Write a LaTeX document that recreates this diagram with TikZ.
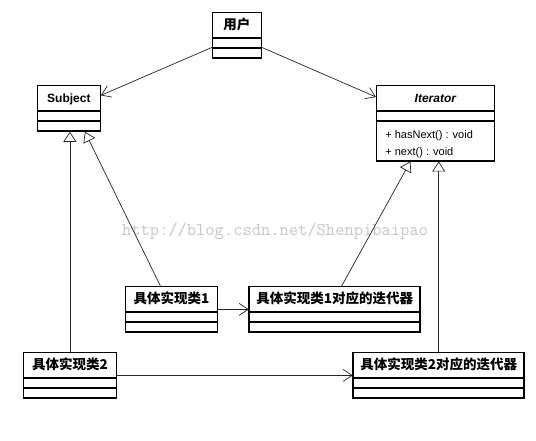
\documentclass[tikz,border=0pt]{standalone}
\usepackage{fontspec}
\setmainfont{Liberation Sans}
\newfontfamily\cjk{Noto Sans CJK SC}
\usetikzlibrary{shapes,
                arrows.meta,
                positioning}
\tikzset{umlclass/.style =
   {rectangle split,
    rectangle split parts=3,
    draw,
    line width=0.8pt,
    postaction={draw, line width=1.8pt},
    inner xsep=3pt,
    inner ysep=2pt,
    rectangle split empty part height=4pt,
    rectangle split empty part depth=0pt,
    anchor=north west,
    font=\bfseries\fontsize{12}{14}\selectfont}}
\tikzset{watermark/.style =
   {text=black!22,
    font=\ttfamily\fontsize{18}{20}\selectfont}}
\tikzset{assoc/.style = {draw, line width=0.7pt, black!85,
    -{Straight Barb[length=9pt, width=12pt]}}}
\tikzset{inherit/.style = {draw, line width=0.7pt, black!85,
    -{Triangle[open, length=10pt, width=13pt, fill=white]}}}
\newcommand\clsname[1]{\rule[-6pt]{0pt}{21pt}#1}
\newcommand\cjkname[1]{\clsname{\cjk\fontsize{13.5}{15}\selectfont #1}}
\newcommand\method{\normalfont\fontsize{11}{13}\selectfont}

\begin{document}
\begin{tikzpicture}[x=1pt, y=-1pt]

    \useasboundingbox (0,0) rectangle (536,440);
    \fill [white] (0,0) rectangle (536,440);

    \node [watermark] (mark) at (275,231) {http://blog.csdn.net/Shenpibaipao};

    \node [umlclass, minimum width=49pt] (user) at (212,12)
          {\cjkname{用户}};

    \node [umlclass, minimum width=63pt] (subject) at (37,85)
          {\clsname{Subject}};

    \node [umlclass,
           minimum width=118pt,
           inner xsep=9pt,
           align=left,
           rectangle split part align={center,center,left}] (iterator) at (376,85)
          {\clsname{\itshape Iterator}
           \nodepart{three}
           \method\rule{0pt}{15pt}+ hasNext() : void\\[3pt]
           \method\rule[-3pt]{0pt}{3pt}+ next() : void};

    \node [umlclass, minimum width=92pt] (impl1) at (125,286)
          {\cjkname{具体实现类1}};

    \node [umlclass,
           minimum width=171pt,
           right = 31pt of impl1.east,
           anchor=west] (iter1)
          {\cjkname{具体实现类1对应的迭代器}};

    \node [umlclass, minimum width=93pt] (impl2) at (23,352)
          {\cjkname{具体实现类2}};

    \node [umlclass,
           minimum width=171pt,
           right = 236pt of impl2.east,
           anchor=west] (iter2)
          {\cjkname{具体实现类2对应的迭代器}};

    % associations
    \draw [assoc] ([yshift=-12pt]user.west) -- ([yshift=13pt]subject.east);
    \draw [assoc] ([yshift=-12pt]user.east) -- ([yshift=-12pt]iterator.north west);
    \draw [assoc] (impl1.east) -- (iter1.west);
    \draw [assoc] (impl2.east) -- (iter2.west);

    % generalizations
    \draw [inherit] (impl2.north) -- (impl2.north |- subject.south);
    \draw [inherit] ([xshift=-11pt]impl1.north) -- ([xshift=16pt]subject.south);
    \draw [inherit] ([xshift=7pt]iter1.north) -- ([xshift=-25pt]iterator.south);
    \draw [inherit] (iter2.north) -- (iter2.north |- iterator.south);

\end{tikzpicture}
\end{document}
